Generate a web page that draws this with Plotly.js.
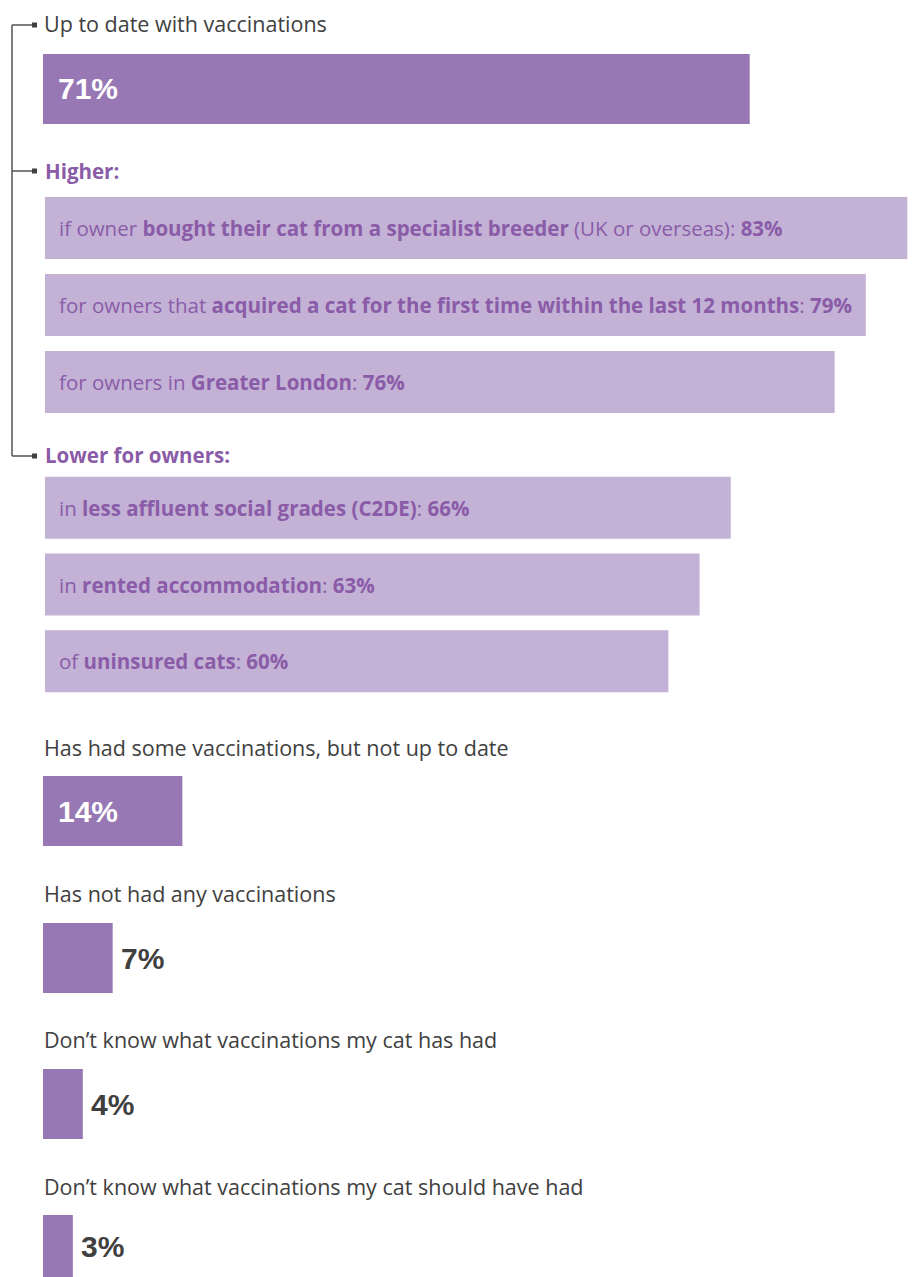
<!DOCTYPE html>
<html>
<head>
<meta charset="utf-8">
<script src="https://cdn.plot.ly/plotly-3.0.1.min.js"></script>
<style>html,body{margin:0;padding:0;background:#fff}#chart{width:912px;height:1277px}</style>
</head>
<body>
<div id="chart"></div>
<script>
// ---- data ----
const mainLabels = [
  "Up to date with vaccinations",
  "Has had some vaccinations, but not up to date",
  "Has not had any vaccinations",
  "Don\u2019t know what vaccinations my cat has had",
  "Don\u2019t know what vaccinations my cat should have had"
];
const mainValues = [71, 14, 7, 4, 3];

const higherHeading = "Higher:";
const higherPrefix = [
  "if owner <b>bought their cat from a specialist breeder</b> (UK or overseas)",
  "for owners that <b>acquired a cat for the first time within the last 12 months</b>",
  "for owners in <b>Greater London</b>"
];
const higherValues = [83, 79, 76];

const lowerHeading = "Lower for owners:";
const lowerPrefix = [
  "in <b>less affluent social grades (C2DE)</b>",
  "in <b>rented accommodation</b>",
  "of <b>uninsured cats</b>"
];
const lowerValues = [66, 63, 60];

// ---- style ----
const H = 1277, W = 912;
const MAIN = "#9778B4", SUB = "#C3B1D6", PURPLE = "#8A5CA8", DARK = "#404040";
const FONT = "Open Sans";
const dom = (top, bottom) => [1 - bottom / H, 1 - top / H];

const mainRows = [[54, 124], [776, 846], [923, 993], [1069, 1139], [1215, 1277]];
const headY = [24, 747, 893, 1039, 1186];
const mainAxes = ["y", "y4", "y5", "y6", "y7"];

const traces = [];
const annotations = [];
const layout = {
  width: W, height: H,
  margin: {l: 0, r: 0, t: 0, b: 0},
  paper_bgcolor: "#fff", plot_bgcolor: "rgba(0,0,0,0)",
  showlegend: false,
  font: {family: FONT, color: DARK},
  xaxis: {domain: [43 / W, 1], range: [0, 87.3], visible: false, fixedrange: true, anchor: "y"},
  xaxis2: {domain: [45 / W, 1], range: [0, 867 / 10.39], visible: false, fixedrange: true, anchor: "y2"},
  shapes: [],
  annotations: annotations
};

const hidden = {visible: false, fixedrange: true, showgrid: false, zeroline: false};

mainValues.forEach((v, i) => {
  const ax = mainAxes[i];
  const key = ax === "y" ? "yaxis" : "yaxis" + ax.slice(1);
  layout[key] = Object.assign({}, hidden, {domain: dom(mainRows[i][0], mainRows[i][1]), range: [-0.5, 0.5], anchor: "x"});
  traces.push({
    type: "bar", orientation: "h", x: [v], y: [0], width: [1],
    xaxis: "x", yaxis: ax, marker: {color: MAIN, line: {width: 0}},
    hoverinfo: "skip"
  });
  annotations.push({
    xref: "paper", yref: "paper", x: 42 / W, y: 1 - headY[i] / H,
    xanchor: "left", yanchor: "middle", showarrow: false,
    text: mainLabels[i], font: {family: FONT, size: 21.5, color: DARK}
  });
  const inside = v >= 10;
  annotations.push({
    xref: "x", yref: ax, x: inside ? 0 : v, y: 0,
    xanchor: "left", yanchor: "middle", showarrow: false,
    xshift: inside ? 13 : 6, yshift: 0,
    text: "<b>" + v + "%</b>",
    font: {family: "Liberation Sans", size: 30, color: inside ? "#ffffff" : DARK}
  });
});

function subGroup(prefix, values, axName, top, bottom, heading, headPx) {
  const key = "yaxis" + axName.slice(1);
  const pitch = (bottom - top + 15) / 3;
  layout[key] = Object.assign({}, hidden, {
    domain: dom(top - 7.5, bottom + 7.5), range: [2.5, -0.5], anchor: "x2"
  });
  traces.push({
    type: "bar", orientation: "h", x: values, y: values.map((_, j) => j),
    width: values.map(() => 62 / pitch),
    xaxis: "x2", yaxis: axName, marker: {color: SUB, line: {width: 0}},
    hoverinfo: "skip"
  });
  values.forEach((v, j) => {
    annotations.push({
      xref: "x2", yref: axName, x: 0, y: j, xanchor: "left", yanchor: "middle",
      xshift: 12, showarrow: false,
      text: prefix[j] + ": <b>" + v + "%</b>",
      font: {family: FONT, size: 20.5, color: PURPLE}
    });
  });
  annotations.push({
    xref: "paper", yref: "paper", x: 43 / W, y: 1 - headPx / H,
    xanchor: "left", yanchor: "middle", showarrow: false,
    text: "<b>" + heading + "</b>", font: {family: FONT, size: 20.5, color: PURPLE}
  });
}
subGroup(higherPrefix, higherValues, "y2", 197, 413, higherHeading, 171);
subGroup(lowerPrefix, lowerValues, "y3", 477, 692, lowerHeading, 455);

// bracket connector
const px = (x) => x / W, py = (y) => 1 - y / H;
const LC = "#555555";
layout.shapes.push({type: "line", xref: "paper", yref: "paper", x0: px(12), x1: px(12), y0: py(25), y1: py(456), line: {color: LC, width: 1.5}});
[25, 171, 456].forEach(y => {
  layout.shapes.push({type: "line", xref: "paper", yref: "paper", x0: px(12), x1: px(33), y0: py(y), y1: py(y), line: {color: LC, width: 1.5}});
  layout.shapes.push({type: "rect", xref: "paper", yref: "paper", x0: px(32), x1: px(37), y0: py(y + 2.5), y1: py(y - 2.5), fillcolor: "#404040", line: {width: 0}});
});

Plotly.newPlot("chart", traces, layout, {displayModeBar: false, staticPlot: true});
</script>
</body>
</html>
